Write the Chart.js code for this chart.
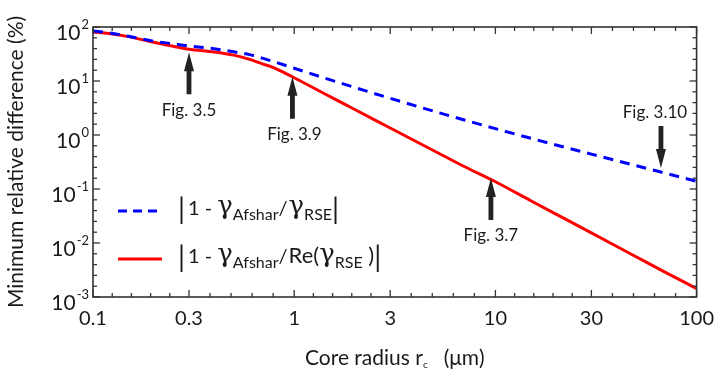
<!DOCTYPE html>
<html><head><meta charset="utf-8">
<script src="https://cdn.jsdelivr.net/npm/chart.js@4/dist/chart.umd.min.js"></script>
<style>html,body{margin:0;padding:0;background:#fff}#wrap{width:724px;height:372px}</style>
</head><body><div id="wrap"><canvas id="c" width="724" height="372"></canvas></div>
<script>
// ---- data ----
const coreRadius = [0.1,0.12,0.15,0.2,0.25,0.3,0.4,0.5,0.6,0.7,0.8,0.9,1,1.5,2,3,5,7,10,15,20,30,50,70,100];
const diffRSE    = [84.4,78.2,67.3,54.6,48.9,44.5,39.5,34.7,30.8,26.2,22.5,19.6,17.2,10.6,7.59,4.78,2.72,1.90,1.31,0.869,0.653,0.443,0.271,0.196,0.139];
const diffReRSE  = [80.8,75.5,66.4,52.1,44.1,38.6,34.4,30.1,25.1,20.6,17.3,14.0,11.5,5.19,2.97,1.35,0.501,0.261,0.136,0.0607,0.0343,0.0154,0.00557,0.00286,0.00143];
const xTickValues = [0.1,0.3,1,3,10,30,100];
const xTickLabels = ['0.1','0.3','1','3','10','30','100'];
const yTickValues = [1e-3,1e-2,1e-1,1,10,100];
const yTickExponents = ['-3','-2','-1','0','1','2'];
const figLabels = ['Fig. 3.5','Fig. 3.9','Fig. 3.7','Fig. 3.10'];
const figX      = [0.3, 0.98, 9.5, 66.5];
const figTipY   = [34, 12.0, 0.16, 0.245];
const figDir    = ['up','up','up','down'];

const FONT = 'Lato';
const TXT = '#1a1a1a';
const AX = '#333';

function drawSegments(ctx, x, baseY, segs){
  let cx = x;
  for (const s of segs){
    ctx.font = s.font;
    ctx.fillText(s.t, cx, baseY + (s.dy||0));
    cx += ctx.measureText(s.t).width + (s.kern||0);
  }
  return cx;
}

const decor = {
  id:'decor',
  afterDraw(chart){
    const {ctx, chartArea:a, scales:{x, y}} = chart;
    ctx.save();
    ctx.strokeStyle = AX; ctx.lineWidth = 1.6;
    ctx.strokeRect(a.left, a.top, a.right - a.left, a.bottom - a.top);
    ctx.lineWidth = 1.3;
    const tick = (x1,y1,x2,y2)=>{ctx.beginPath();ctx.moveTo(x1,y1);ctx.lineTo(x2,y2);ctx.stroke();};
    for (let i=0;i<xTickValues.length;i++){
      const px = x.getPixelForValue(xTickValues[i]);
      tick(px, a.bottom, px, a.bottom-7); tick(px, a.top, px, a.top+7);
      if (i < xTickValues.length-1){
        const la = Math.log10(xTickValues[i]), lb = Math.log10(xTickValues[i+1]);
        for (let j=1;j<5;j++){
          const m = x.getPixelForValue(Math.pow(10, la + j*(lb-la)/5));
          tick(m, a.bottom, m, a.bottom-4); tick(m, a.top, m, a.top+4);
        }
      }
    }
    for (let i=0;i<yTickValues.length;i++){
      const py = y.getPixelForValue(yTickValues[i]);
      tick(a.left, py, a.left+7, py); tick(a.right, py, a.right-7, py);
      if (i < yTickValues.length-1){
        const la = Math.log10(yTickValues[i]);
        for (let j=1;j<5;j++){
          const m = y.getPixelForValue(Math.pow(10, la + j/5));
          tick(a.left, m, a.left+4, m); tick(a.right, m, a.right-4, m);
        }
      }
    }
    // y tick labels 10^n
    ctx.fillStyle = TXT; ctx.textBaseline = 'middle'; ctx.textAlign = 'left';
    for (let i=0;i<yTickValues.length;i++){
      const py = y.getPixelForValue(yTickValues[i]);
      ctx.font = `21px ${FONT}`; const wb = ctx.measureText('10').width;
      ctx.font = `13px ${FONT}`; const we = ctx.measureText(yTickExponents[i]).width;
      const R = a.left - 4;
      ctx.font = `21px ${FONT}`; ctx.fillText('10', R - we - wb - 1, py + 6);
      ctx.font = `13px ${FONT}`; ctx.fillText(yTickExponents[i], R - we, py - 2);
    }
    // x title with subscript
    ctx.textBaseline = 'alphabetic';
    const xsegs = [
      {t:'Core radius r', font:`21px ${FONT}`},
      {t:'c', font:`10px ${FONT}`, dy:3},
      {t:'   (\u03bcm)', font:`21px ${FONT}`}
    ];
    let w = 0; for (const s of xsegs){ctx.font=s.font; w += ctx.measureText(s.t).width;}
    drawSegments(ctx, (a.left+a.right)/2 - w/2, 365, xsegs);

    // annotations
    for (let i=0;i<figLabels.length;i++){
      const px = x.getPixelForValue(figX[i]);
      const tipY = y.getPixelForValue(figTipY[i]);
      const d = figDir[i] === 'up' ? 1 : -1;
      const L = 42, H = 19, hw = 5, sw = 2.4;
      ctx.fillStyle = '#222';
      ctx.beginPath();
      ctx.moveTo(px, tipY);
      ctx.lineTo(px + hw, tipY + d*H);
      ctx.lineTo(px + sw, tipY + d*H);
      ctx.lineTo(px + sw, tipY + d*L);
      ctx.lineTo(px - sw, tipY + d*L);
      ctx.lineTo(px - sw, tipY + d*H);
      ctx.lineTo(px - hw, tipY + d*H);
      ctx.closePath(); ctx.fill();
      ctx.font = `17px ${FONT}`; ctx.textAlign = 'center'; ctx.textBaseline = 'middle';
      const ly = d > 0 ? tipY + L + 16 : tipY - L - 13;
      const lx = d > 0 ? px + (i===1?2:0) : px - 6;
      ctx.fillStyle = TXT; ctx.fillText(figLabels[i], lx, ly);
    }

    // legend
    ctx.textAlign = 'left'; ctx.textBaseline = 'alphabetic';
    ctx.lineWidth = 3;
    ctx.strokeStyle = '#0000ff'; ctx.setLineDash([9,6]);
    tick(118, 211, 162, 211);
    ctx.strokeStyle = '#ff0000'; ctx.setLineDash([]);
    tick(118, 259, 162, 259);
    ctx.fillStyle = TXT;
    const bar = {t:'|', font:`28px ${FONT}`, dy:4, kern:3};
    const one = {t:'1 - ', font:`20px ${FONT}`};
    const gam = {t:'\u03b3', font:`26px "DejaVu Serif"`, dy:-1};
    const sub = t => ({t, font:`16px ${FONT}`, dy:5});
    const sl  = {t:'/', font:`20px ${FONT}`, kern:1};
    drawSegments(ctx, 178, 215, [bar, one, gam, sub('Afshar'), sl, gam, sub('RSE'), {t:'|', font:`28px ${FONT}`, dy:4}]);
    drawSegments(ctx, 178, 263, [bar, one, gam, sub('Afshar'), sl, {t:'Re(', font:`22px ${FONT}`}, gam, sub('RSE'), {t:' )', font:`22px ${FONT}`}, {t:'|', font:`28px ${FONT}`, dy:4}]);
    ctx.restore();
  }
};

const mk = arr => coreRadius.map((r,i)=>({x:r, y:arr[i]}));
new Chart(document.getElementById('c').getContext('2d'), {
  type:'line',
  data:{datasets:[
    {label:'|1 - γAfshar/γRSE|', data:mk(diffRSE), borderColor:'#0000ff', borderWidth:3, borderDash:[10,7], pointRadius:0, cubicInterpolationMode:'monotone', fill:false},
    {label:'|1 - γAfshar/Re(γRSE)|', data:mk(diffReRSE), borderColor:'#ff0000', borderWidth:3, pointRadius:0, cubicInterpolationMode:'monotone', fill:false}
  ]},
  options:{
    responsive:false, animation:false, devicePixelRatio:1,
    layout:{padding:{top:27, right:21, left:0, bottom:0}},
    plugins:{legend:{display:false}, tooltip:{enabled:false}},
    scales:{
      x:{type:'logarithmic', min:0.1, max:100, position:'bottom',
        afterBuildTicks(s){ s.ticks = xTickValues.map(v=>({value:v})); },
        afterFit(s){ s.height = 75; },
        ticks:{autoSkip:false, maxRotation:0, minRotation:0, padding:10, color:TXT, font:{family:FONT, size:20},
          callback:(v,i)=>xTickLabels[i]},
        grid:{display:false, drawTicks:false}, border:{display:false}},
      y:{type:'logarithmic', min:1e-3, max:100, position:'left',
        afterFit(s){ s.width = 93; },
        ticks:{display:false},
        grid:{display:false, drawTicks:false}, border:{display:false},
        title:{display:true, text:'Minimum relative difference (%)', color:TXT, font:{family:FONT, size:21}, padding:{top:4, bottom:0}}}
    }
  },
  plugins:[decor]
});
</script></body></html>
